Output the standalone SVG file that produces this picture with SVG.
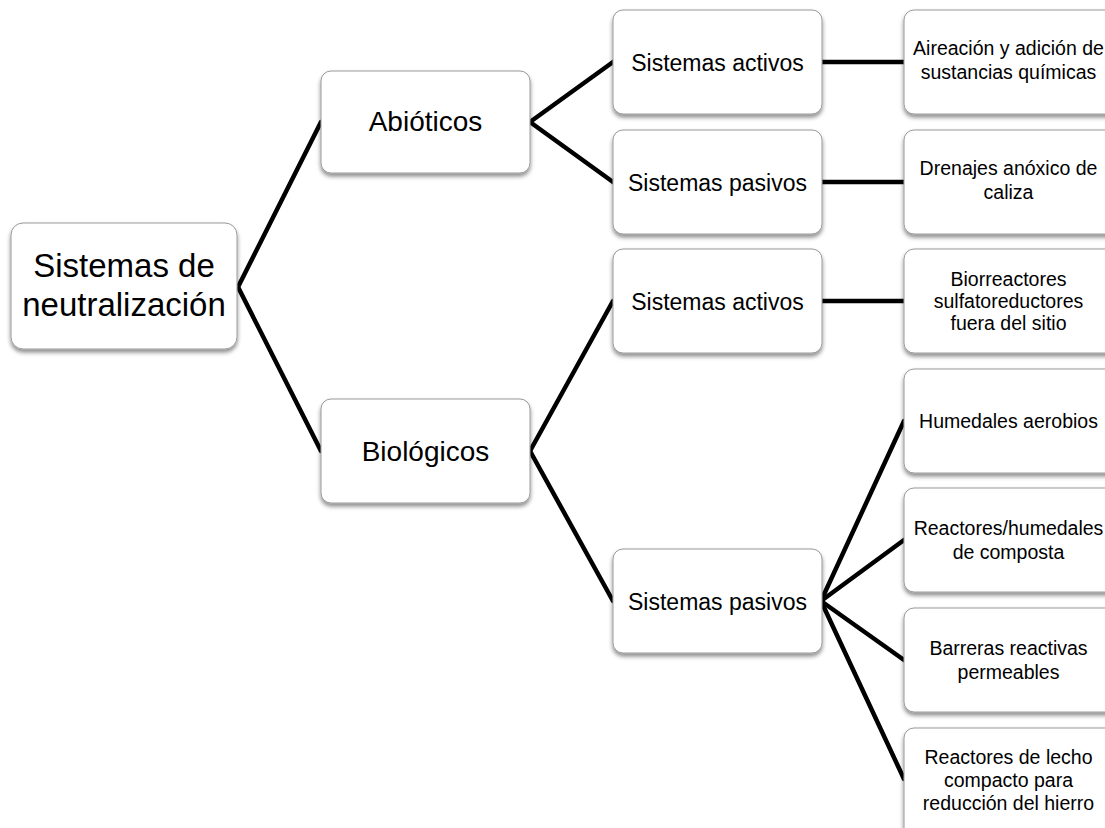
<svg xmlns="http://www.w3.org/2000/svg" width="1105" height="828" viewBox="0 0 1105 828">
  <defs>
    <filter id="sh" x="-10%" y="-10%" width="120%" height="130%">
      <feDropShadow dx="0" dy="3" stdDeviation="2" flood-color="#000" flood-opacity="0.45"/>
    </filter>
  </defs>
  <style>
    .box { fill: #ffffff; stroke: #9a9a9a; stroke-width: 1; filter: url(#sh); }
    text { font-family: "Liberation Sans", Arial, sans-serif; fill: #000; text-anchor: middle; }
    .t0 { font-size: 33px; }
    .t1 { font-size: 28px; }
    .t2 { font-size: 23px; }
    .t3 { font-size: 19.5px; }
    .con line { stroke: #000; stroke-width: 4.5; stroke-linecap: round; }
  </style>
  <rect width="1105" height="828" fill="#ffffff"/>

  <g id="connectors" class="con">
    <line x1="238" y1="287" x2="321" y2="122"/>
    <line x1="238" y1="287" x2="321" y2="451"/>
    <line x1="530" y1="122" x2="613" y2="62"/>
    <line x1="530" y1="122" x2="613" y2="182"/>
    <line x1="530" y1="451" x2="613" y2="301"/>
    <line x1="530" y1="451" x2="613" y2="601"/>
    <line x1="822" y1="62" x2="904" y2="62"/>
    <line x1="822" y1="182" x2="904" y2="182"/>
    <line x1="822" y1="301" x2="904" y2="301"/>
    <line x1="821" y1="601" x2="904" y2="421"/>
    <line x1="821" y1="601" x2="904" y2="540"/>
    <line x1="821" y1="601" x2="904" y2="660"/>
    <line x1="821" y1="601" x2="904" y2="779"/>
  </g>

  <g id="root">
    <rect class="box" x="11" y="223" width="226" height="126" rx="12"/>
    <text class="t0" x="124" y="277">Sistemas de</text>
    <text class="t0" x="124" y="316">neutralización</text>
  </g>

  <g id="abioticos">
    <rect class="box" x="321" y="71" width="209" height="102" rx="10"/>
    <text class="t1" x="425.5" y="131">Abióticos</text>
  </g>
  <g id="biologicos">
    <rect class="box" x="321" y="399" width="209" height="104" rx="10"/>
    <text class="t1" x="425.5" y="461">Biológicos</text>
  </g>

  <g id="abio-activos">
    <rect class="box" x="613" y="10" width="209" height="104" rx="10"/>
    <text class="t2" x="717.5" y="71">Sistemas activos</text>
  </g>
  <g id="abio-pasivos">
    <rect class="box" x="613" y="130" width="209" height="104" rx="10"/>
    <text class="t2" x="717.5" y="191">Sistemas pasivos</text>
  </g>
  <g id="bio-activos">
    <rect class="box" x="613" y="249" width="209" height="104" rx="10"/>
    <text class="t2" x="717.5" y="310">Sistemas activos</text>
  </g>
  <g id="bio-pasivos">
    <rect class="box" x="613" y="549" width="209" height="104" rx="10"/>
    <text class="t2" x="717.5" y="610">Sistemas pasivos</text>
  </g>

  <g id="aireacion">
    <rect class="box" x="904" y="10" width="215" height="104" rx="10"/>
    <text class="t3" x="1008.5" y="55">Aireación y adición de</text>
    <text class="t3" x="1008.5" y="79">sustancias químicas</text>
  </g>
  <g id="drenajes">
    <rect class="box" x="904" y="130" width="215" height="104" rx="10"/>
    <text class="t3" x="1008.5" y="175">Drenajes anóxico de</text>
    <text class="t3" x="1008.5" y="199">caliza</text>
  </g>
  <g id="biorreactores">
    <rect class="box" x="904" y="249" width="215" height="104" rx="10"/>
    <text class="t3" x="1008.5" y="286">Biorreactores</text>
    <text class="t3" x="1008.5" y="308">sulfatoreductores</text>
    <text class="t3" x="1008.5" y="330">fuera del sitio</text>
  </g>
  <g id="humedales">
    <rect class="box" x="904" y="369" width="215" height="104" rx="10"/>
    <text class="t3" x="1008.5" y="428">Humedales aerobios</text>
  </g>
  <g id="composta">
    <rect class="box" x="904" y="488" width="215" height="104" rx="10"/>
    <text class="t3" x="1008.5" y="535">Reactores/humedales</text>
    <text class="t3" x="1008.5" y="559">de composta</text>
  </g>
  <g id="barreras">
    <rect class="box" x="904" y="608" width="215" height="104" rx="10"/>
    <text class="t3" x="1008.5" y="655">Barreras reactivas</text>
    <text class="t3" x="1008.5" y="679">permeables</text>
  </g>
  <g id="lecho">
    <rect class="box" x="904" y="728" width="215" height="110" rx="10"/>
    <text class="t3" x="1008.5" y="764">Reactores de lecho</text>
    <text class="t3" x="1008.5" y="787">compacto para</text>
    <text class="t3" x="1008.5" y="810">reducción del hierro</text>
  </g>
</svg>
